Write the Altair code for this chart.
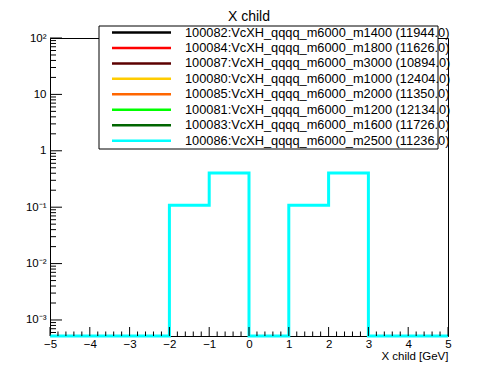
import altair as alt
import pandas as pd
import numpy as np

# ---- data ----
bin_edges = [-5, -4, -3, -2, -1, 0, 1, 2, 3, 4, 5]
bin_values = [0, 0, 0, 0.108, 0.405, 0, 0.108, 0.405, 0, 0]

legend_labels = [
    "100082:VcXH_qqqq_m6000_m1400 (11944.0)",
    "100084:VcXH_qqqq_m6000_m1800 (11626.0)",
    "100087:VcXH_qqqq_m6000_m3000 (10894.0)",
    "100080:VcXH_qqqq_m6000_m1000 (12404.0)",
    "100085:VcXH_qqqq_m6000_m2000 (11350.0)",
    "100081:VcXH_qqqq_m6000_m1200 (12134.0)",
    "100083:VcXH_qqqq_m6000_m1600 (11726.0)",
    "100086:VcXH_qqqq_m6000_m2500 (11236.0)",
]
legend_colors = ["#000000", "#ff0000", "#5c0000", "#ffcc00",
                 "#ff6600", "#00ff00", "#006600", "#00ffff"]

x_major = list(range(-5, 6))
y_major = [1e-3, 1e-2, 1e-1, 1, 10, 100]

YMIN, YMAX = 5.2e-4, 100
W, H = 398, 298
FONT = "Liberation Sans"

# ---- tables ----
plot_vals = [max(v, YMIN) for v in bin_values]
hist = pd.DataFrame({"x": bin_edges, "y": plot_vals + [plot_vals[-1]]})

x_minor = [round(v, 1) for v in np.arange(-5, 5.0001, 0.2) if abs(v - round(v)) > 1e-6]
y_minor = [m * 10.0 ** e for e in range(-4, 2) for m in range(2, 10)
           if YMIN <= m * 10.0 ** e <= YMAX]

xs = alt.Scale(domain=[-5, 5], nice=False, zero=False)
ys = alt.Scale(type="log", domain=[YMIN, YMAX], nice=False)

label_expr = "datum.value >= 100 ? '10²' : datum.value >= 10 ? '10' : datum.value >= 1 ? '1' : datum.value >= 0.1 ? '10⁻¹' : datum.value >= 0.01 ? '10⁻²' : '10⁻³'"

x_axis = alt.Axis(
    values=x_major, ticks=False, grid=False, domainColor="black",
    labelOverlap=False, labelFlush=False,
    labelFont=FONT, labelFontSize=11.5, labelColor="black", labelPadding=2,
    title="X child [GeV]", titleFont=FONT, titleFontSize=11.5,
    titleFontWeight="normal", titleAnchor="end", titleColor="black",
    titlePadding=1)
y_axis = alt.Axis(
    values=y_major, ticks=False, grid=False, domainColor="black",
    labelOverlap=False, labelFlush=False,
    labelExpr=label_expr, labelFont=FONT, labelFontSize=11.5,
    labelColor="black", labelPadding=4, title=None)

hist_line = alt.Chart(hist).mark_line(
    interpolate="step-after", color="#00ffff", strokeWidth=3, clip=False
).encode(
    x=alt.X("x:Q", scale=xs, axis=x_axis),
    y=alt.Y("y:Q", scale=ys, axis=y_axis),
)

def xticks(vals, length):
    return alt.Chart(pd.DataFrame({"x": vals})).mark_rule(color="black", strokeWidth=1).encode(
        x=alt.X("x:Q", scale=xs, axis=x_axis), y=alt.value(H), y2=alt.value(H - length))

def yticks(vals, length):
    return alt.Chart(pd.DataFrame({"y": vals})).mark_rule(color="black", strokeWidth=1).encode(
        y=alt.Y("y:Q", scale=ys, axis=y_axis), x=alt.value(0), x2=alt.value(length))

# legend
leg = pd.DataFrame({"label": legend_labels, "color": legend_colors,
                    "row": list(range(len(legend_labels)))})
leg["ypx"] = -5.5 + leg["row"] * 15.45

leg_box = alt.Chart(pd.DataFrame({"a": [0]})).mark_rect(
    fill="white", stroke="black", strokeWidth=1
).encode(x=alt.value(49), x2=alt.value(388), y=alt.value(-12), y2=alt.value(111))

leg_lines = alt.Chart(leg).mark_rule(strokeWidth=2.5).encode(
    x=alt.value(62), x2=alt.value(121),
    y=alt.Y("ypx:Q", scale=None, axis=None),
    color=alt.Color("color:N", scale=None, legend=None),
)
leg_text = alt.Chart(leg).mark_text(
    align="left", baseline="middle", font=FONT, fontSize=12.8, color="black"
).encode(
    x=alt.value(135),
    y=alt.Y("ypx:Q", scale=None, axis=None),
    text="label:N",
)

title = alt.Chart(pd.DataFrame({"t": ["X child"]})).mark_text(
    font=FONT, fontSize=14, color="black", align="center", baseline="alphabetic"
).encode(x=alt.value(W / 2), y=alt.value(-17), text="t:N")

main = alt.layer(
    hist_line,
    xticks(x_major, 9), xticks(x_minor, 4.5),
    yticks(y_major, 12), yticks(y_minor, 6),
)

chart = alt.layer(main, leg_box, leg_lines, leg_text, title).resolve_scale(
    y="independent", x="independent", color="independent"
).properties(
    width=W, height=H,
    autosize=alt.AutoSizeParams(type="none"),
    padding={"left": 42, "top": 30, "right": 10, "bottom": 30},
    background="white",
).configure_view(stroke="black", strokeWidth=1)

chart.save("out.html", embed_options={"renderer": "svg", "actions": False})
